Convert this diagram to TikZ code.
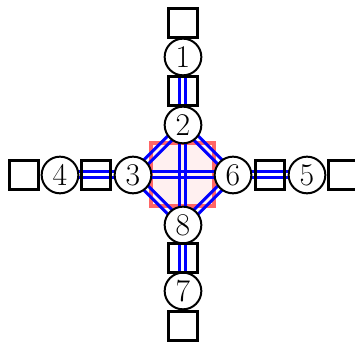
\documentclass[tikz,border=0pt]{standalone}
\usepackage{tikz}
\usetikzlibrary{backgrounds}
\tikzset{
  site/.style={circle, draw, fill=white, line width=0.6mm, minimum size=11mm, inner sep=0pt, font=\fontsize{27}{30}\selectfont},
  cell/.style={rectangle, draw, line width=0.8mm, minimum size=8.8mm, inner sep=0pt},
  bondln/.style={blue, line width=0.9mm},
  plaqln/.style={draw=red!60, fill=red!6, line width=1.2mm},
}
\newcommand{\bondpair}[4]{%
  \draw[bondln, transform canvas={shift={(#3,#4)}}] (#1.center) -- (#2.center);
  \draw[bondln, transform canvas={shift={(-#3,-#4)}}] (#1.center) -- (#2.center);
}

\begin{document}
\begin{tikzpicture}[x=0.3mm, y=0.3mm]
    \useasboundingbox (-183,-168) rectangle (172,175);
    \clip (-183,-168) rectangle (172,175);
    % sites
    \node[site] (n1) at (0,118) {1};
    \node[site] (n2) at (0,50) {2};
    \node[site] (n3) at (-50,0) {3};
    \node[site] (n4) at (-123,0) {4};
    \node[site] (n5) at (124,0) {5};
    \node[site] (n6) at (50,0) {6};
    \node[site] (n7) at (0,-116) {7};
    \node[site] (n8) at (0,-50) {8};
    % cells
    \node[cell] (sqtop) at (0,152) {};
    \node[cell] (sq12) at (0,84) {};
    \node[cell] (sq87) at (0,-83) {};
    \node[cell] (sqbot) at (0,-151) {};
    \node[cell] (sqleft) at (-159,0) {};
    \node[cell] (sq43) at (-87,0) {};
    \node[cell] (sq65) at (87,0) {};
    \node[cell] (sqright) at (160,0) {};
    \begin{pgfonlayer}{background}
      % plaquette
      \draw[plaqln] (-31.5,-31.5) rectangle (31.5,31.5);
      % bonds
      \bondpair{n1}{n2}{0.9mm}{0mm}
      \bondpair{n8}{n7}{0.9mm}{0mm}
      \bondpair{n4}{n3}{0mm}{0.9mm}
      \bondpair{n6}{n5}{0mm}{0.9mm}
      \bondpair{n2}{n8}{0.9mm}{0mm}
      \bondpair{n3}{n6}{0mm}{0.9mm}
      \bondpair{n2}{n3}{0.64mm}{-0.64mm}
      \bondpair{n6}{n8}{0.64mm}{-0.64mm}
      \bondpair{n2}{n6}{0.64mm}{0.64mm}
      \bondpair{n3}{n8}{0.64mm}{0.64mm}
    \end{pgfonlayer}
  \end{tikzpicture}
\end{document}
